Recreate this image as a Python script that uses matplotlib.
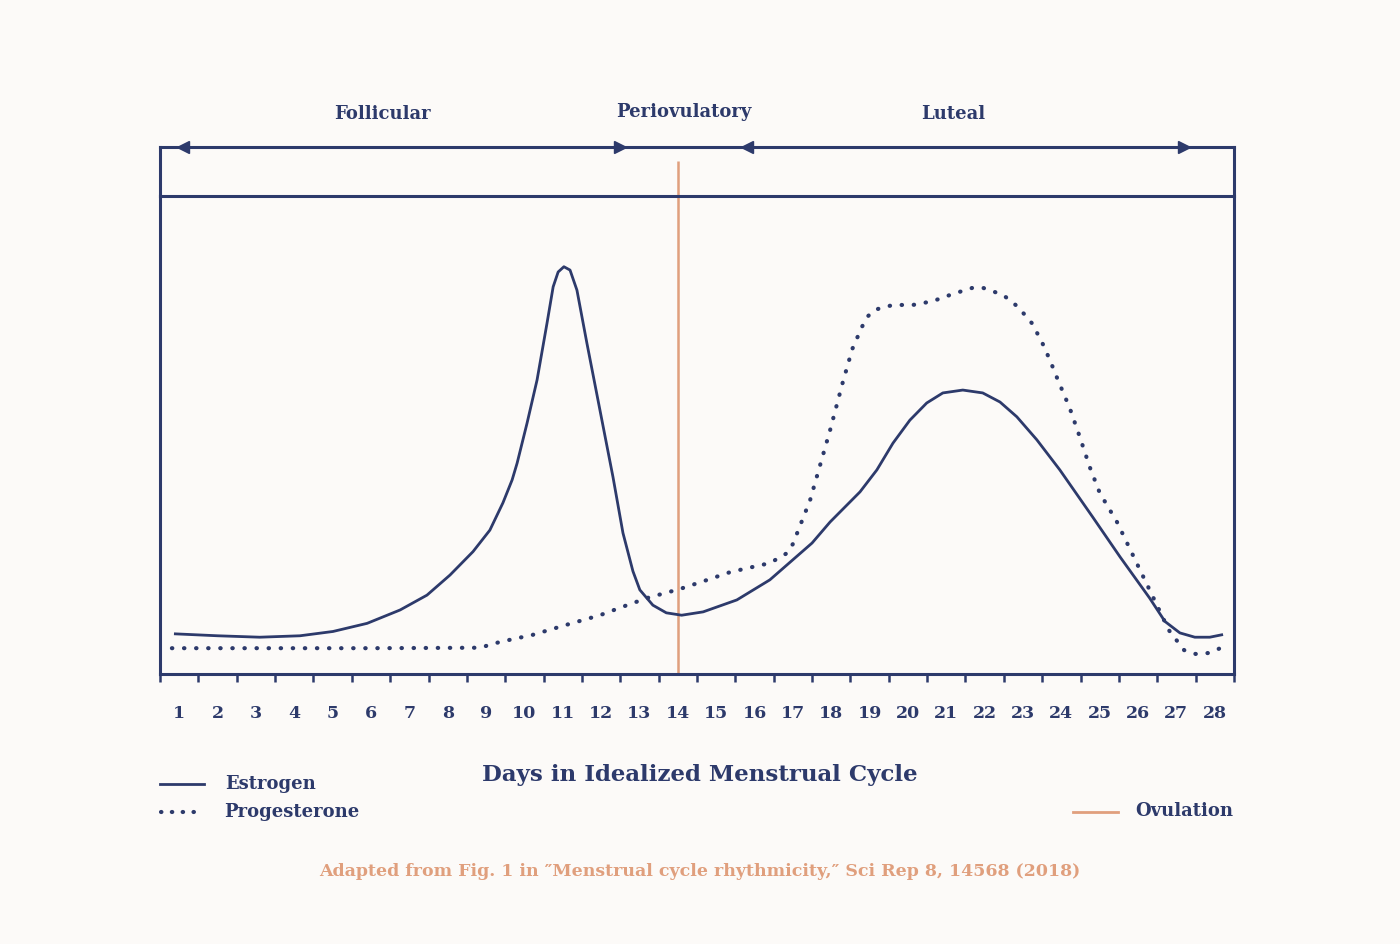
import matplotlib.pyplot as plt
from matplotlib.lines import Line2D

NAVY = "#2d3a6b"
ORANGE = "#e09f7d"
BG = "#fcfaf8"
plt.rcParams["font.family"] = ["DejaVu Serif"]
plt.rcParams["font.weight"] = "bold"

# data
days = list(range(1, 29))
estrogen_x = [0.9, 2.0, 3.1, 4.15, 5.01, 5.9, 6.76, 7.46, 8.06, 8.66, 9.1, 9.44, 9.68, 9.81,
              10.07, 10.33, 10.59, 10.75, 10.88, 11.03, 11.19, 11.37, 11.63, 11.97, 12.31,
              12.57, 12.83, 13.01, 13.35, 13.7, 14.1, 14.66, 15.54, 16.4, 17.5, 17.97, 18.75,
              19.19, 19.61, 20.05, 20.49, 20.91, 21.43, 21.95, 22.4, 22.84, 23.36, 23.96,
              24.82, 25.53, 26.3, 26.7, 27.09, 27.48, 27.87, 28.18]
estrogen_y = [8.4, 8.0, 7.7, 8.0, 8.9, 10.6, 13.4, 16.5, 20.7, 25.6, 30.1, 35.8, 40.6, 44.1,
              52.5, 61.5, 73.4, 81.0, 84.1, 85.2, 84.5, 80.3, 69.2, 55.2, 41.2,
              29.5, 21.5, 17.6, 14.4, 12.8, 12.3, 13.0, 15.5, 19.7, 27.4, 31.8, 38.1,
              42.7, 48.3, 53.1, 56.7, 58.8, 59.4, 58.8, 56.9, 53.8, 49.0, 42.7,
              32.8, 24.5, 15.9, 11.0, 8.6, 7.7, 7.7, 8.2]
progesterone_x = [0.81, 3.0, 6.0, 8.84, 9.36, 10.22, 11.1, 11.97, 12.54, 13.2, 14.06, 14.7,
                  15.36, 15.9, 16.4, 16.85, 17.0, 17.45, 17.97, 18.3, 18.55, 18.8, 18.95,
                  19.14, 19.61, 20.13, 20.65, 21.17, 21.69, 21.95, 22.48, 22.87, 23.23, 23.49,
                  23.7, 23.91, 24.22, 24.48, 24.74, 25.0, 25.45, 26.3, 26.8, 27.2, 27.5,
                  27.85, 28.2]
progesterone_y = [5.4, 5.4, 5.4, 5.5, 6.7, 8.2, 10.3, 12.3, 14.0, 15.9, 17.8, 19.5,
                  21.3, 22.3, 23.2, 25.3, 27.2, 36.4, 51.0, 61.0, 68.0, 72.6, 74.8,
                  76.2, 77.2, 77.2, 78.0, 79.5, 80.8, 80.8, 79.3, 76.8, 73.4, 69.5,
                  65.7, 61.5, 55.6, 49.6, 43.3, 37.9, 31.8, 17.6, 9.2, 5.0, 4.2,
                  4.4, 5.6]
ovulation_day = 14
phases = ["Follicular", "Periovulatory", "Luteal"]
phase_label_x = [6.29, 14.16, 21.17]
arrow_left_x = [1.1, 15.8]
arrow_right_x = [12.5, 27.2]

fig = plt.figure(figsize=(14, 9.44), dpi=100, facecolor=BG)
ax = fig.add_axes([0.1143, 0.2860, 0.7671, 0.5064], facecolor=BG)
band = fig.add_axes([0.1143, 0.7924, 0.7671, 0.0519], facecolor="none")

ax.plot(estrogen_x, estrogen_y, color=NAVY, lw=2.0, solid_joinstyle="round")
ax.plot(progesterone_x, progesterone_y, color=NAVY, lw=3.0,
        linestyle=(0, (0.1, 2.8)), dash_capstyle="round")
ax.vlines(ovulation_day, 0, 107.3, color=ORANGE, lw=1.8, clip_on=False, zorder=1)

ax.set_xlim(0.5, 28.5)
ax.set_ylim(0, 100)
ax.set_yticks([])
ax.set_xticks(days)
ax.set_xticklabels([str(d) for d in days], fontsize=12.5, color=NAVY)
ax.set_xticks([d + 0.5 for d in range(0, 29)], minor=True)
ax.tick_params(axis="x", which="major", length=0, pad=22)
ax.tick_params(axis="x", which="minor", length=6, width=1.8, color=NAVY, direction="out")
for s in ax.spines.values():
    s.set_color(NAVY)
    s.set_linewidth(2.2)

band.set_xlim(0.5, 28.5)
band.set_ylim(0, 1)
band.set_xticks([])
band.set_yticks([])
band.spines["bottom"].set_visible(False)
for s in ["top", "left", "right"]:
    band.spines[s].set_color(NAVY)
    band.spines[s].set_linewidth(2.2)
band.plot(arrow_left_x, [1] * len(arrow_left_x), marker="<", ls="none", ms=9,
          color=NAVY, clip_on=False)
band.plot(arrow_right_x, [1] * len(arrow_right_x), marker=">", ls="none", ms=9,
          color=NAVY, clip_on=False)
for name, px, py in zip(phases, phase_label_x, [1.67, 1.71, 1.67]):
    band.text(px, py, name, ha="center", va="center", fontsize=13, color=NAVY)

fig.text(0.5, 1 - 775 / 944, "Days in Idealized Menstrual Cycle", ha="center",
         va="center", fontsize=16.5, color=NAVY)

# legend
fig.add_artist(Line2D([160 / 1400, 204 / 1400], [1 - 784 / 944] * 2, color=NAVY, lw=2.0))
fig.add_artist(Line2D([161 / 1400, 204 / 1400], [1 - 812 / 944] * 2, color=NAVY, lw=3.0,
                      linestyle=(0, (0.1, 2.5)), dash_capstyle="round"))
fig.add_artist(Line2D([1073 / 1400, 1118 / 1400], [1 - 812 / 944] * 2, color=ORANGE, lw=2.0))
fig.text(225 / 1400, 1 - 784 / 944, "Estrogen", va="center", fontsize=13, color=NAVY)
fig.text(224 / 1400, 1 - 812 / 944, "Progesterone", va="center", fontsize=13, color=NAVY)
fig.text(1135 / 1400, 1 - 811 / 944, "Ovulation", va="center", fontsize=13, color=NAVY)

fig.text(0.5, 1 - 871 / 944,
         "Adapted from Fig. 1 in \u2033Menstrual cycle rhythmicity,\u2033 Sci Rep 8, 14568 (2018)",
         ha="center", va="center", fontsize=12.5, color=ORANGE)

fig.savefig("out.png", dpi=100, facecolor=BG)
